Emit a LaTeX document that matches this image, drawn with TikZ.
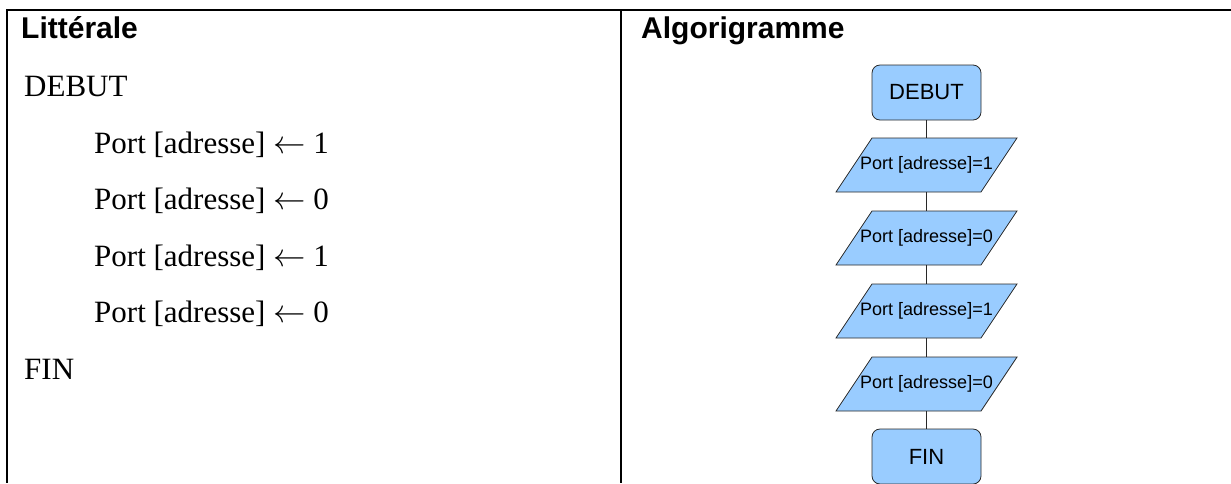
\documentclass[tikz,border=0pt]{standalone}
\usepackage{fontspec}
\usepackage{graphicx}
\setmainfont{Liberation Serif}
\newfontfamily\arialfont{Liberation Sans}
\usetikzlibrary{calc}
\definecolor{boxblue}{RGB}{153,204,255}
\definecolor{edgegray}{RGB}{40,40,40}
\newcommand{\larr}{ \scalebox{1.3}{$\leftarrow$} }
\begin{document}
\begin{tikzpicture}[x=1pt,y=-1pt,
  tabline/.style={line width=2pt,black},
  header/.style={anchor=base west,inner sep=0pt,font=\arialfont\bfseries\fontsize{30}{36}\selectfont},
  lit/.style={anchor=base west,inner sep=0pt,font=\fontsize{31}{36}\selectfont},
  term/.style={draw=edgegray,fill=boxblue,rounded corners=8pt,minimum width=109pt,minimum height=55pt,inner sep=0pt,line width=0.8pt,font=\arialfont\fontsize{22}{26}\selectfont},
  io/.style={rectangle,minimum width=145pt,minimum height=54pt,inner sep=0pt,font=\arialfont\fontsize{18}{22}\selectfont},
  ioshape/.style={draw=edgegray,fill=boxblue,line width=0.8pt},
  link/.style={draw=edgegray,line width=0.8pt}]
\useasboundingbox (0,0) rectangle (1231,483);
% table
\coordinate (tl) at (6,10);
\coordinate (tr) at (1231,10);
\coordinate (lt) at (7,9);
\coordinate (bl) at (7,483);
\coordinate (mt) at (621,10);
\coordinate (mb) at (621,483);
\draw[tabline] (tl) -- (tr);
\draw[tabline] (lt) -- (bl);
\draw[tabline] (mt) -- (mb);
% headers
\node[header] (h1) at (21,38) {Littérale};
\node[header] (h2) at (641,38) {Algorigramme};
% literal
\node[lit] (l0) at (24,96) {DEBUT};
\node[lit] (l1) at (94,153) {Port [adresse]\larr1};
\node[lit] (l2) at (94,209) {Port [adresse]\larr0};
\node[lit] (l3) at (94,266) {Port [adresse]\larr1};
\node[lit] (l4) at (94,322) {Port [adresse]\larr0};
\node[lit] (l5) at (24,379) {FIN};
% flowchart
\node[term] (debut) at (926.5,92.5) {DEBUT};
\foreach \y in {165,238,311,384}{
  \path[ioshape] ($(926.5,\y)+(-54.5,-27)$) -- ($(926.5,\y)+(90.5,-27)$) -- ($(926.5,\y)+(54.5,27)$) -- ($(926.5,\y)+(-90.5,27)$) -- cycle;
}
\node[io] (p1) at (926.5,165) {Port [adresse]=1};
\node[io] (p2) at (926.5,238) {Port [adresse]=0};
\node[io] (p3) at (926.5,311) {Port [adresse]=1};
\node[io] (p4) at (926.5,384) {Port [adresse]=0};
\node[term] (fin) at (926.5,456.5) {FIN};
\draw[link] (debut) -- (p1);
\draw[link] (p1) -- (p2);
\draw[link] (p2) -- (p3);
\draw[link] (p3) -- (p4);
\draw[link] (p4) -- (fin);
\end{tikzpicture}
\end{document}
